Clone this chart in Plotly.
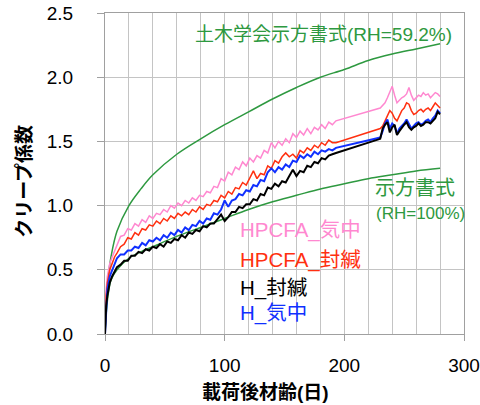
import plotly.graph_objects as go

# ---- data ----
t_code = [0, 1, 2, 3, 5, 10, 20, 30, 40, 60, 80, 100, 120, 140, 160, 180, 200, 220, 240, 260, 280]
code_rh59 = [0, 0.22, 0.36, 0.47, 0.60, 0.80, 1.00, 1.13, 1.24, 1.40, 1.52, 1.63, 1.73, 1.83, 1.92, 2.00, 2.06, 2.13, 2.18, 2.22, 2.26]
code_rh100 = [0, 0.16, 0.26, 0.33, 0.42, 0.50, 0.59, 0.64, 0.68, 0.76, 0.83, 0.90, 0.97, 1.03, 1.08, 1.13, 1.17, 1.21, 1.24, 1.27, 1.29]

t_exp = [0, 1, 2, 4, 6, 8, 10,
         13, 16, 19, 22, 25, 28, 31, 34, 37, 40, 43, 46, 49, 52, 55, 58, 61, 64, 67, 70,
         73, 76, 79, 82, 85, 88, 91, 94, 97, 100, 103, 106, 109, 112, 115, 118, 121, 124,
         127, 130, 133, 136, 139, 142, 145, 148, 151, 154, 157, 160, 163, 166, 169, 172,
         175, 178, 181, 184, 187, 190, 193,
         230, 232, 234, 236, 238, 240, 242, 244, 246, 248, 250, 252, 254, 256, 258, 260,
         262, 264, 266, 268, 270, 272, 274, 276, 278, 280]

hpcfa_air = [0, 0.35, 0.45, 0.55, 0.60, 0.65, 0.70,
             0.76, 0.77, 0.82, 0.81, 0.86, 0.84, 0.89, 0.87, 0.92, 0.90, 0.94, 0.93, 0.97, 0.95, 1.00, 0.98, 1.02, 1.00, 1.04, 1.02,
             1.06, 1.04, 1.08, 1.07, 1.11, 1.10, 1.15, 1.14, 1.21, 1.19, 1.26, 1.24, 1.30, 1.28, 1.34, 1.31, 1.37, 1.34,
             1.39, 1.37, 1.43, 1.41, 1.49, 1.45, 1.50, 1.47, 1.52, 1.49, 1.56, 1.53, 1.58, 1.55, 1.60, 1.56,
             1.61, 1.59, 1.63, 1.60, 1.65, 1.63, 1.66,
             1.76, 1.78, 1.80, 1.84, 1.88, 1.93, 1.86, 1.80, 1.82, 1.84, 1.85, 1.87, 1.92, 1.86, 1.82, 1.84,
             1.86, 1.85, 1.88, 1.86, 1.87, 1.84, 1.86, 1.88, 1.87, 1.85]

hpcfa_sealed = [0, 0.30, 0.40, 0.50, 0.55, 0.60, 0.63,
                0.68, 0.70, 0.75, 0.74, 0.79, 0.77, 0.82, 0.81, 0.85, 0.84, 0.88, 0.86, 0.90, 0.88, 0.92, 0.90, 0.94, 0.92, 0.95, 0.93,
                0.97, 0.95, 0.99, 0.97, 1.01, 1.00, 1.04, 1.03, 1.08, 1.06, 1.11, 1.09, 1.14, 1.13, 1.18, 1.16, 1.22, 1.27,
                1.21, 1.25, 1.24, 1.31, 1.29, 1.35, 1.33, 1.38, 1.41, 1.38, 1.40, 1.37, 1.43, 1.41, 1.45, 1.43,
                1.47, 1.45, 1.49, 1.47, 1.51, 1.49, 1.49,
                1.60, 1.62, 1.66, 1.70, 1.74, 1.72, 1.68, 1.66, 1.70, 1.74, 1.76, 1.80, 1.79, 1.74, 1.71, 1.72,
                1.74, 1.75, 1.73, 1.75, 1.76, 1.74, 1.77, 1.80, 1.78, 1.76]

h_sealed = [0, 0.22, 0.30, 0.40, 0.45, 0.49, 0.52,
            0.54, 0.57, 0.57, 0.61, 0.61, 0.64, 0.63, 0.66, 0.65, 0.68, 0.67, 0.70, 0.68, 0.72, 0.71, 0.74, 0.73, 0.77, 0.75, 0.79,
            0.78, 0.81, 0.80, 0.84, 0.83, 0.86, 0.86, 0.90, 0.93, 0.88, 0.91, 0.95, 0.95, 0.99, 0.98, 1.01, 1.01, 1.05,
            1.04, 1.09, 1.08, 1.14, 1.13, 1.17, 1.15, 1.19, 1.18, 1.23, 1.28, 1.23, 1.27, 1.26, 1.31, 1.30,
            1.34, 1.33, 1.37, 1.36, 1.39, 1.40, 1.41,
            1.52, 1.60, 1.63, 1.65, 1.57, 1.61, 1.63, 1.55, 1.58, 1.61, 1.63, 1.65, 1.61, 1.59, 1.61, 1.62,
            1.64, 1.62, 1.63, 1.65, 1.65, 1.64, 1.66, 1.68, 1.73, 1.71]

h_air = [0, 0.25, 0.35, 0.45, 0.50, 0.55, 0.59,
         0.62, 0.62, 0.65, 0.65, 0.68, 0.67, 0.71, 0.69, 0.73, 0.72, 0.75, 0.73, 0.77, 0.75, 0.79, 0.77, 0.81, 0.79, 0.83, 0.81,
         0.85, 0.84, 0.88, 0.86, 0.90, 0.89, 0.94, 0.93, 0.97, 1.04, 0.99, 1.04, 1.05, 1.09, 1.08, 1.12, 1.11, 1.16,
         1.15, 1.20, 1.19, 1.26, 1.29, 1.26, 1.30, 1.28, 1.32, 1.30, 1.35, 1.34, 1.39, 1.37, 1.40, 1.38,
         1.42, 1.40, 1.43, 1.42, 1.44, 1.43, 1.45,
         1.53, 1.58, 1.64, 1.67, 1.60, 1.64, 1.62, 1.56, 1.60, 1.62, 1.64, 1.67, 1.63, 1.60, 1.62, 1.64,
         1.65, 1.63, 1.64, 1.66, 1.67, 1.65, 1.68, 1.70, 1.74, 1.72]

x_ticks = [0, 100, 200, 300]
y_ticks = [0.0, 0.5, 1.0, 1.5, 2.0, 2.5]

GREEN = "#2E9940"
FONT = "Liberation Sans, Arial, Noto Sans CJK JP, sans-serif"

fig = go.Figure()
fig.add_trace(go.Scatter(x=t_code, y=code_rh59, mode="lines", line=dict(color=GREEN, width=1.5, shape="spline")))
fig.add_trace(go.Scatter(x=t_code, y=code_rh100, mode="lines", line=dict(color=GREEN, width=1.5, shape="spline")))
fig.add_trace(go.Scatter(x=t_exp, y=hpcfa_air, mode="lines", line=dict(color="#FF88D0", width=1.5)))
fig.add_trace(go.Scatter(x=t_exp, y=hpcfa_sealed, mode="lines", line=dict(color="#FF3010", width=1.5)))
fig.add_trace(go.Scatter(x=t_exp, y=h_air, mode="lines", line=dict(color="#1030FF", width=2)))
fig.add_trace(go.Scatter(x=t_exp, y=h_sealed, mode="lines", line=dict(color="#000000", width=2)))

def ann(x, y, text, color, size, xanchor="left"):
    fig.add_annotation(x=x, y=y, xref="x", yref="y", text=text, showarrow=False,
                       xanchor=xanchor, yanchor="middle", font=dict(color=color, size=size, family=FONT))

ann(73.5, 2.33, "土木学会示方書式(RH=59.2%)", GREEN, 19)
ann(224, 1.137, "示方書式", GREEN, 20)
ann(225, 0.94, "(RH=100%)", GREEN, 17)
ann(111, 0.81, "HPCFA_気中", "#FF88D0", 20.5)
ann(111, 0.576, "HPCFA_封緘", "#FF3010", 20.5)
ann(111, 0.358, "H_封緘", "#000000", 20.5)
ann(111, 0.164, "H_気中", "#1030FF", 20.5)

fig.add_annotation(x=0.446, y=-0.181, xref="paper", yref="paper", text="<b>載荷後材齢(日)</b>",
                   showarrow=False, xanchor="center", yanchor="middle",
                   font=dict(size=19, color="#000000", family=FONT))
fig.add_annotation(x=-0.223, y=0.477, xref="paper", yref="paper", text="<b>クリープ係数</b>",
                   showarrow=False, xanchor="center", yanchor="middle", textangle=-90,
                   font=dict(size=19, color="#000000", family=FONT))

GRID = "#C4C4C4"
fig.update_xaxes(range=[0, 300], tickvals=x_ticks, ticks="outside", ticklen=6, tickcolor="#A0A0A0",
                 showgrid=True, gridcolor=GRID, gridwidth=1,
                 minor=dict(dtick=20, showgrid=True, gridcolor=GRID, gridwidth=1),
                 showline=True, linecolor="#A0A0A0", linewidth=1, mirror=True, zeroline=False,
                 tickfont=dict(size=19, color="#000000", family=FONT), ticklabelstandoff=8,
                 automargin=False)
fig.update_yaxes(range=[0, 2.5], tickvals=y_ticks, tickformat=".1f", ticks="outside", ticklen=7,
                 tickcolor="#A0A0A0", showgrid=True, gridcolor=GRID, gridwidth=1,
                 showline=True, linecolor="#A0A0A0", linewidth=1, mirror=True, zeroline=False,
                 tickfont=dict(size=19, color="#000000", family=FONT), ticklabelstandoff=20,
                 automargin=False)

fig.update_layout(width=480, height=405, margin=dict(l=105, r=16, t=13, b=71, autoexpand=False),
                  plot_bgcolor="white", paper_bgcolor="white", showlegend=False)

fig.write_html("out.html", config={"displayModeBar": False},
               post_script="document.body.style.margin='0';document.body.style.overflow='hidden';")
